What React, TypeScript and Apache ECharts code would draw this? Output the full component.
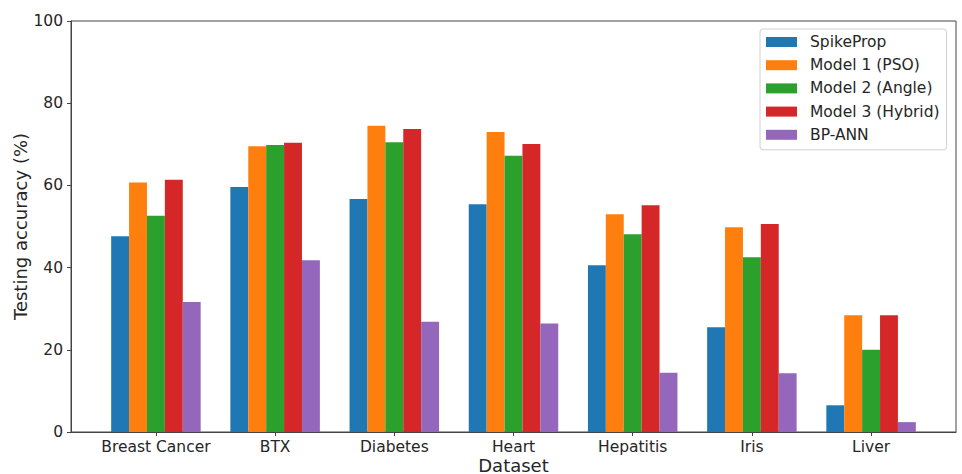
import React, { useEffect, useRef } from "react";
import * as echarts from "echarts";

const categories = ["Breast Cancer", "BTX", "Diabetes", "Heart", "Hepatitis", "Iris", "Liver"];
const seriesNames = ["SpikeProp", "Model 1 (PSO)", "Model 2 (Angle)", "Model 3 (Hybrid)", "BP-ANN"];
const spikeProp = [47.6, 59.6, 56.7, 55.4, 40.6, 25.5, 6.5];
const model1 = [60.7, 69.5, 74.5, 73.0, 53.0, 49.8, 28.4];
const model2 = [52.6, 69.8, 70.5, 67.2, 48.1, 42.5, 20.0];
const model3 = [61.4, 70.4, 73.7, 70.1, 55.2, 50.6, 28.4];
const bpAnn = [31.6, 41.8, 26.8, 26.4, 14.4, 14.3, 2.4];
const yTicks = [0, 20, 40, 60, 80, 100];
const colors = ["#1f77b4", "#ff7f0e", "#2ca02c", "#d62728", "#9467bd"];

const FONT = "DejaVu Sans";

export default function App() {
  const ref = useRef<HTMLDivElement>(null);
  useEffect(() => {
    document.body.style.margin = "0";
    if (!ref.current) return;
    const chart = echarts.init(ref.current, undefined, { renderer: "svg" });
    const allValues = [spikeProp, model1, model2, model3, bpAnn];
    const idx = categories.map((_, i) => i);
    chart.setOption({
      animation: false,
      backgroundColor: "#ffffff",
      textStyle: { fontFamily: FONT },
      grid: {
        left: 71,
        right: 6,
        top: 21,
        bottom: 42,
        outerBoundsMode: "none",
        containLabel: false,
        show: true,
        borderColor: "#444",
        borderWidth: 1,
        backgroundColor: "transparent",
      },
      legend: {
        orient: "vertical",
        left: 760,
        top: 29,
        padding: [5, 7, 7, 6],
        itemWidth: 31,
        itemHeight: 10,
        itemGap: 7.2,
        icon: "rect",
        borderColor: "#d0d0d0",
        borderWidth: 1,
        borderRadius: 3,
        backgroundColor: "rgba(255,255,255,0.8)",
        textStyle: { fontFamily: FONT, fontSize: 15.5, color: "#262626", lineHeight: 16, padding: [0, 0, 0, 8] },
        data: seriesNames,
      },
      xAxis: {
        type: "value",
        min: -0.7125,
        max: 6.7125,
        name: "Dataset",
        nameLocation: "middle",
        nameGap: 25,
        nameMoveOverlap: false,
        nameTextStyle: { fontFamily: FONT, fontSize: 18, color: "#262626", lineHeight: 16 },
        splitLine: { show: false },
        axisLine: { show: true, onZero: false, lineStyle: { color: "#444", width: 1 } },
        axisTick: { show: true, length: 4, lineStyle: { color: "#444" }, customValues: idx },
        axisLabel: {
          customValues: idx,
          formatter: (v: number) => categories[Math.round(v)] ?? "",
          fontFamily: FONT,
          fontSize: 15.5,
          color: "#262626",
          lineHeight: 16,
          margin: 7,
        },
      },
      yAxis: {
        type: "value",
        min: 0,
        max: 100,
        interval: 20,
        name: "Testing accuracy (%)",
        nameLocation: "middle",
        nameGap: 42,
        nameMoveOverlap: false,
        nameTextStyle: { fontFamily: FONT, fontSize: 18, color: "#262626" },
        splitLine: { show: false },
        axisLine: { show: true, onZero: false, lineStyle: { color: "#444", width: 1 } },
        axisTick: { show: true, length: 4, lineStyle: { color: "#444" } },
        axisLabel: {
          fontFamily: FONT,
          fontSize: 15.5,
          color: "#262626",
          margin: 8,
          formatter: (v: number) => (yTicks.includes(v) ? String(v) : ""),
        },
      },
      series: seriesNames.map((name, s) => ({
        name,
        type: "bar",
        barWidth: 17.9,
        barGap: "0%",
        itemStyle: { color: colors[s] },
        data: idx.map((i) => [i, allValues[s][i]]),
      })),
    });
    return () => chart.dispose();
  }, []);
  return <div ref={ref} style={{ width: 962, height: 474 }} />;
}
